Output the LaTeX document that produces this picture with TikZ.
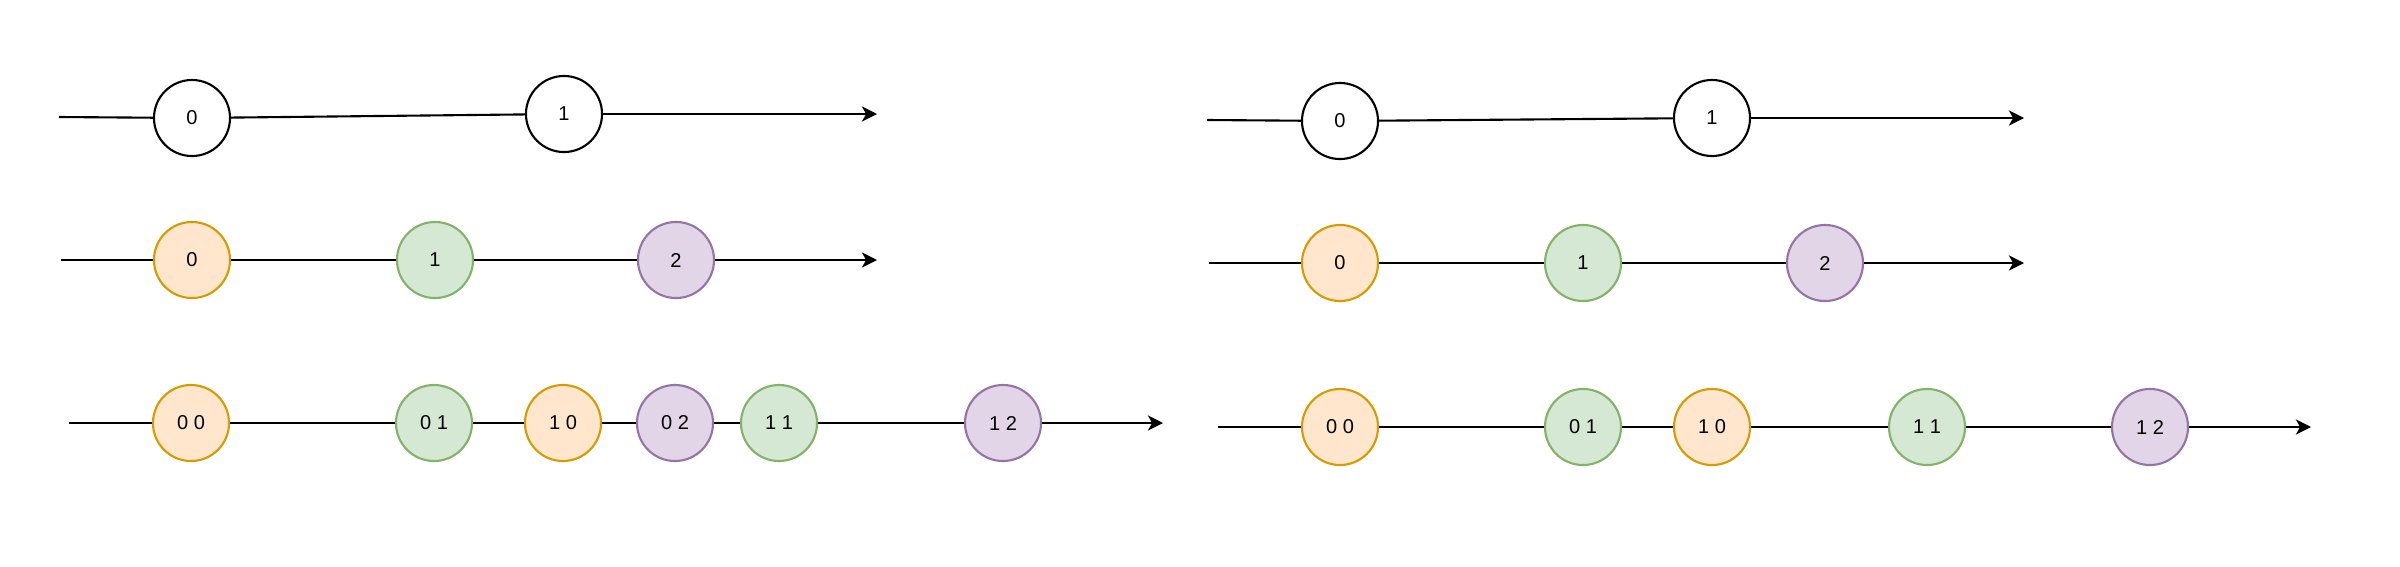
\documentclass[tikz,border=0pt]{standalone}
\usepackage{fontspec}
\setmainfont{Liberation Sans}
\usetikzlibrary{arrows.meta}
\definecolor{orfill}{HTML}{FFE6CC}
\definecolor{ordraw}{HTML}{D79B00}
\definecolor{grfill}{HTML}{D5E8D4}
\definecolor{grdraw}{HTML}{82B366}
\definecolor{pufill}{HTML}{E1D5E7}
\definecolor{pudraw}{HTML}{9673A6}

\begin{document}
\begin{tikzpicture}[x=0.01cm, y=-0.01cm,
  ev/.style={circle, draw, line width=0.6pt, minimum size=0.76cm,
    inner sep=0pt, fill=white, font=\fontsize{5.7}{6.8}\selectfont},
  evo/.style={ev, draw=ordraw, fill=orfill},
  evg/.style={ev, draw=grdraw, fill=grfill},
  evp/.style={ev, draw=pudraw, fill=pufill},
  tl/.style={line width=0.6pt},
  ta/.style={tl, -{Stealth[length=4.3pt, width=4.3pt, inset=1.2pt]}}]
  \useasboundingbox (0,0) rectangle (2400,566);

  % Left: single stream
  \coordinate (la0) at (59,117);
  \node[ev] (l0) at (192,118) {0};
  \node[ev] (l1) at (564,114) {1};
  \coordinate (la1) at (877,114);
  \draw[tl] (la0) -- (l0) -- (l1);
  \draw[ta] (l1) -- (la1);

  % Left: coloured stream
  \coordinate (lb0) at (61,260);
  \node[evo] (lb1) at (192,260) {0};
  \node[evg] (lb2) at (435,260) {1};
  \node[evp] (lb3) at (676,260) {2};
  \coordinate (lb4) at (877,260);
  \draw[tl] (lb0) -- (lb1) -- (lb2) -- (lb3);
  \draw[ta] (lb3) -- (lb4);

  % Left: merged stream
  \coordinate (lc0) at (69,423);
  \node[evo] (lc1) at (191,423) {0 0};
  \node[evg] (lc2) at (434,423) {0 1};
  \node[evo] (lc3) at (563,423) {1 0};
  \node[evp] (lc4) at (675,423) {0 2};
  \node[evg] (lc5) at (779,423) {1 1};
  \node[evp] (lc6) at (1003,423) {1 2};
  \coordinate (lc7) at (1163,423);
  \draw[tl] (lc0) -- (lc1) -- (lc2) -- (lc3) -- (lc4) -- (lc5) -- (lc6);
  \draw[ta] (lc6) -- (lc7);

  % Right: single stream
  \coordinate (ra0) at (1207,120);
  \node[ev] (r0) at (1340,121) {0};
  \node[ev] (r1) at (1712,118) {1};
  \coordinate (ra1) at (2024,118);
  \draw[tl] (ra0) -- (r0) -- (r1);
  \draw[ta] (r1) -- (ra1);

  % Right: coloured stream
  \coordinate (rb0) at (1209,263);
  \node[evo] (rb1) at (1340,263) {0};
  \node[evg] (rb2) at (1583,263) {1};
  \node[evp] (rb3) at (1825,263) {2};
  \coordinate (rb4) at (2024,263);
  \draw[tl] (rb0) -- (rb1) -- (rb2) -- (rb3);
  \draw[ta] (rb3) -- (rb4);

  % Right: merged stream
  \coordinate (rc0) at (1218,427);
  \node[evo] (rc1) at (1340,427) {0 0};
  \node[evg] (rc2) at (1583,427) {0 1};
  \node[evo] (rc3) at (1712,427) {1 0};
  \node[evg] (rc4) at (1927,427) {1 1};
  \node[evp] (rc5) at (2150,427) {1 2};
  \coordinate (rc6) at (2311,427);
  \draw[tl] (rc0) -- (rc1) -- (rc2) -- (rc3) -- (rc4) -- (rc5);
  \draw[ta] (rc5) -- (rc6);
\end{tikzpicture}
\end{document}
